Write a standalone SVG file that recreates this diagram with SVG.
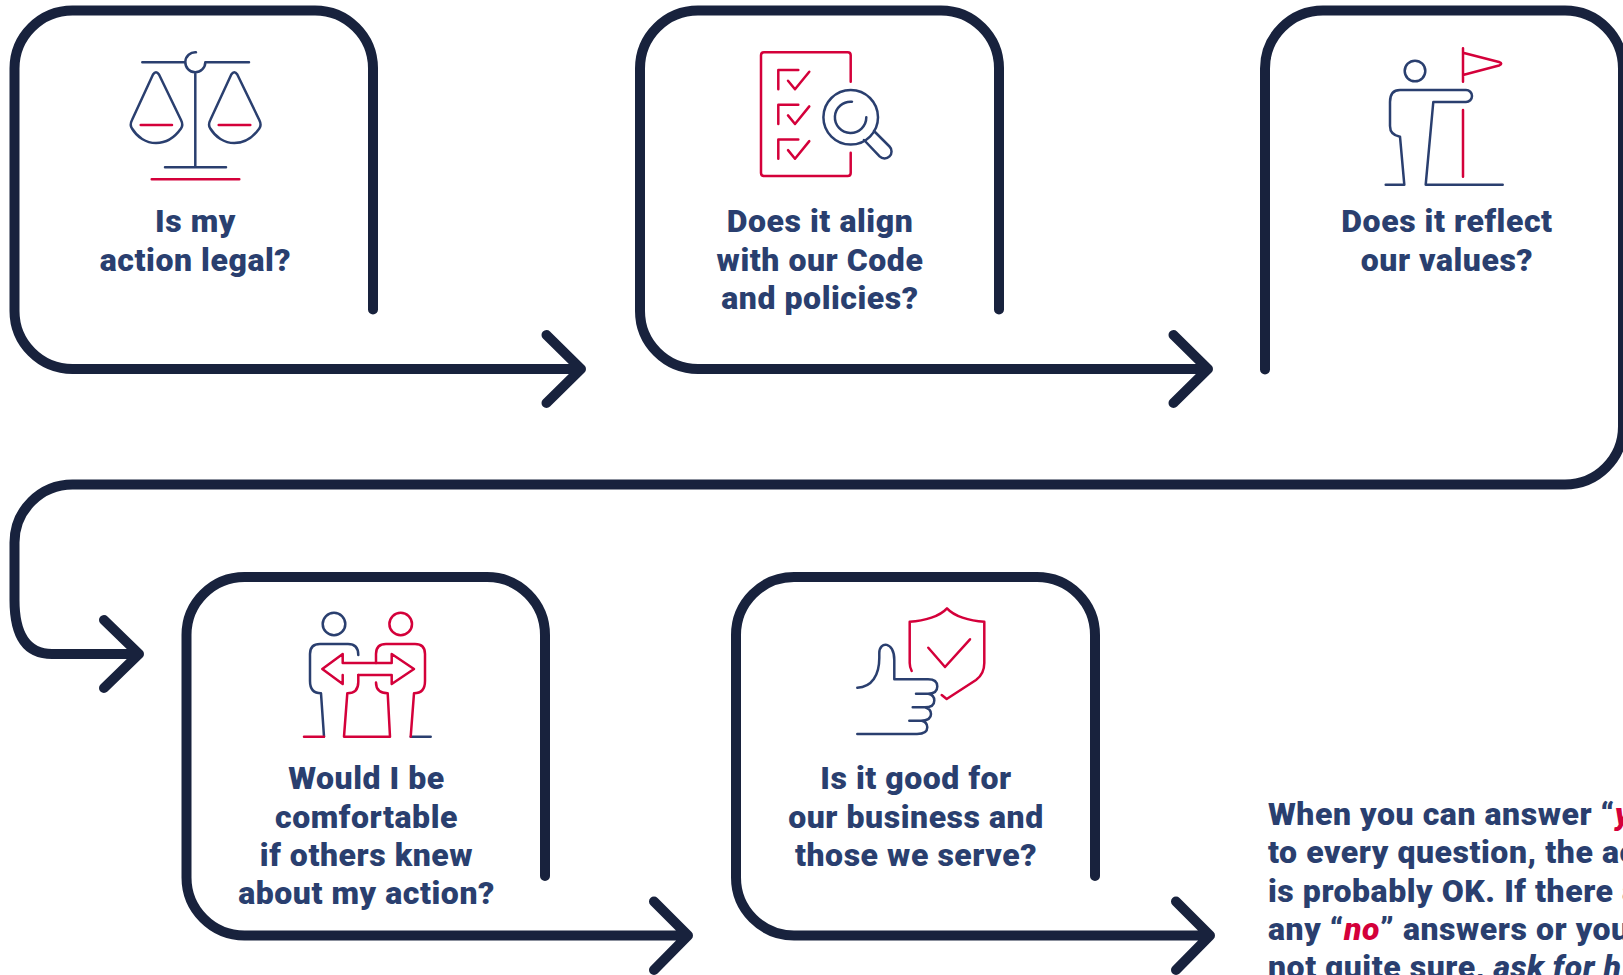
<svg xmlns="http://www.w3.org/2000/svg" width="1623" height="975" viewBox="0 0 1623 975">
<style>
.c{fill:none;stroke:#18223d;stroke-width:10;stroke-linecap:round;stroke-linejoin:round}
.b,.r{fill:none;stroke-width:2.5;stroke-linecap:round;stroke-linejoin:round}
.b{stroke:#2a3f6f}.r{stroke:#d4003a}
text{font-family:Roboto,"Liberation Sans",sans-serif;font-weight:900;font-size:32px;letter-spacing:.55px;fill:#2a3f6f}
.m{text-anchor:middle}
.a{fill:#d4003a;font-style:italic}
.i{font-style:italic}
</style>
<rect width="1623" height="975" fill="#fff"/>
<g id="connectors">
<path class="c" d="M373 309.500V68A58 58 0 0 0 315 10.500H72.500A58 58 0 0 0 14.500 68.500V311A58 58 0 0 0 72.500 369H581M546.500 335L581 369L546.500 403"/>
<path class="c" d="M999 309.500V68A58 58 0 0 0 941 10.500H698A58 58 0 0 0 640 68.500V311A58 58 0 0 0 698 369H1208M1173.500 335L1208 369L1173.500 403"/>
<path class="c" d="M1265 369.500V68.500A58 58 0 0 1 1323 10.500H1565A58 58 0 0 1 1623 68.500V426.500A58 58 0 0 1 1565 484.500H72.500A58 58 0 0 0 14.500 542.500V600C14.500 636 27 654 52 654H139M104 620L139 654L104 688"/>
<path class="c" d="M545 876V635A58 58 0 0 0 487 577H244.500A58 58 0 0 0 186.500 635V877.500A58 58 0 0 0 244.500 935.500H688M654 901.500L688 935.500L654 970"/>
<path class="c" d="M1095 876V635A58 58 0 0 0 1037 577H794A58 58 0 0 0 736 635V877.500A58 58 0 0 0 794 935.500H1210M1176 901.500L1210 935.500L1176 970"/>
</g>
<g id="node-legal">
<path class="b" d="M142.300 62.300H184.700M205.300 62.300H249M196 52.300A10 10 0 1 0 205.300 62.300M195.300 72.300V167.300M165 167.300H226"/>
<path class="b" d="M132 120L153 74.500Q156 70 159 74.500L181 120Q183.500 125 181 128.500C175 137 166 143 156 143C146 143 137 137 132 128.500Q129.500 125 132 120Z"/>
<path class="b" d="M210.300 120L231.300 74.500Q234.300 70 237.300 74.500L259.300 120Q261.800 125 259.300 128.500C253.300 137 244.300 143 234.300 143C224.300 143 215.300 137 210.300 128.500Q207.800 125 210.300 120Z"/>
<path class="r" d="M140.700 125H172M218.700 125H250.300M151.700 179.300H239.300"/>
<text class="m" x="195.500" y="232">Is my</text>
<text class="m" x="195.500" y="271">action legal?</text>
</g>
<g id="node-code">
<path class="r" d="M850.700 81.700V55.300Q850.700 52.300 847.700 52.300H764Q761 52.300 761 55.300V173Q761 176 764 176H847.700Q850.700 176 850.700 173V152.700"/>
<path class="r" d="M778.300 89.300V70H798.300M788 80.700L795 89.300L809.300 71.700M778.300 124V104.700H798.300M788 115.400L795 124L809.300 106.400M778.300 158.700V139.400H798.300M788 150.100L795 158.700L809.300 141.100"/>
<circle class="b" cx="850.700" cy="117.300" r="27.300"/>
<path class="b" d="M852 101.700A15.700 15.700 0 1 0 866.300 117.300M874 131L889.500 146.500A7 7 0 0 1 879.600 156.400L864 140"/>
<text class="m" x="820" y="232">Does it align</text>
<text class="m" x="820" y="271">with our Code</text>
<text class="m" x="820" y="309">and policies?</text>
</g>
<g id="node-values">
<circle class="b" cx="1415" cy="71" r="10.300"/>
<path class="b" d="M1385.700 184.700H1404.300L1400 136.700Q1390 135 1390 126V102Q1390 90 1400 90H1466A6 6 0 0 1 1466 102H1433.300L1425.700 184.700H1502.700"/>
<path class="r" d="M1463 48.300V81.700M1463 110V176.700M1463 52.700L1499 62Q1503.500 63.800 1499 65.500L1463 75"/>
<text class="m" x="1447" y="232">Does it reflect</text>
<text class="m" x="1447" y="271">our values?</text>
</g>
<g id="node-comfortable">
<circle class="b" cx="334" cy="624" r="11.300"/>
<circle class="r" cx="400.700" cy="624" r="11.300"/>
<path class="b" d="M358.300 655Q358.300 644 348 644H320Q310 644 310 654V681Q310 693.300 321 693.300L324 736.700M410.700 736.700H430.700"/>
<path class="r" d="M304 736.700H324M376 663V654Q376 644 386 644H415Q425 644 425 654V681Q425 693.300 414 693.300L410.700 736.700"/>
<path class="r" d="M358.300 675V682Q358.300 693.300 347.300 693.300L344 736.700H390L387.700 693.300Q376 693 376 682.500"/>
<path class="r" d="M342.700 663V654L322.300 669L342.700 684V675M342.700 663H391.700V654L414 669L391.700 684V675H358.300"/>
<text class="m" x="366.500" y="789">Would I be</text>
<text class="m" x="366.500" y="828">comfortable</text>
<text class="m" x="366.500" y="866">if others knew</text>
<text class="m" x="366.500" y="904">about my action?</text>
</g>
<g id="node-business">
<path class="r" d="M911.700 671Q909.700 667 909.700 663V621.700C925 621 940 616 947 608.300C954 616 969 621 984.300 621.700V663Q984.300 674 976 680L946.700 699L941.700 695"/>
<path class="r" d="M928.300 647.700L945 667L970 639.300"/>
<path class="b" d="M857.300 687.700C872 687 879.300 675 879.300 658V653C879.300 641 894.300 641 894.300 660V679.300H928Q937.300 679.300 937.300 686.500Q937.300 693.700 928 693.700H916M928.300 693.700Q934.300 695 934.300 700.500Q934.300 707.300 925 707.300H912.700M925 707.300Q931 709 931 714Q931 720.700 921 720.700H909.300M921.700 720.700Q927.300 722 927.300 727.300Q927.300 734 917 734H857.300"/>
<text class="m" x="916" y="789">Is it good for</text>
<text class="m" x="916" y="828">our business and</text>
<text class="m" x="916" y="866">those we serve?</text>
</g>
<g id="note">
<text x="1268" y="825">When you can answer “<tspan class="a">y</tspan></text>
<text x="1268" y="863">to every question, the ac</text>
<text x="1268" y="902">is probably OK. If there a</text>
<text x="1268" y="940">any “<tspan class="a">no</tspan>” answers or you</text>
<text x="1268" y="978">not quite sure, <tspan class="i">ask for h</tspan></text>
</g>
</svg>
